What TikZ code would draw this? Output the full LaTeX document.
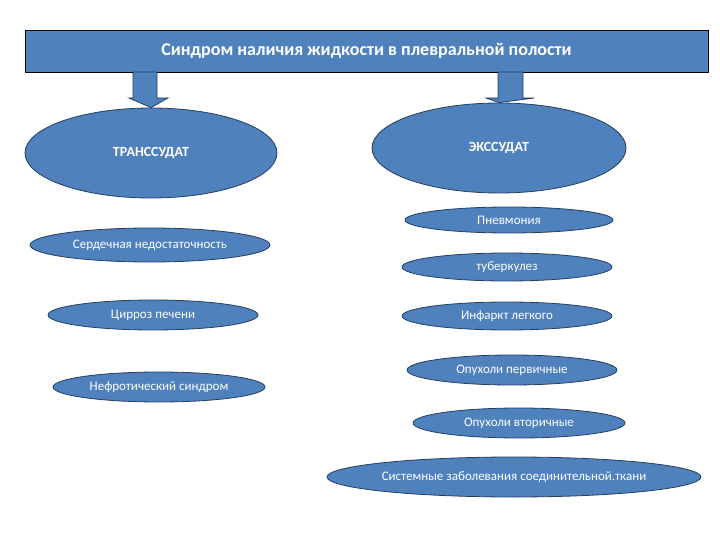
\documentclass[tikz,border=0pt]{standalone}
\usepackage{fontspec}
\setmainfont{Carlito}
\usetikzlibrary{shapes.geometric}
\definecolor{fillb}{HTML}{4F81BD}
\definecolor{edgeb}{HTML}{243F60}
\begin{document}
\begin{tikzpicture}[x=1pt,y=-1pt,
 ell/.style={ellipse,draw=edgeb,fill=fillb,line width=0.8pt,text=white,inner sep=0pt,font=\fontsize{13}{15}\selectfont},
 big/.style={ell,font=\bfseries\fontsize{14}{16}\selectfont},
 arr/.style={draw=edgeb,fill=fillb,line width=0.8pt}]
\useasboundingbox (0,0) rectangle (720,540);
\node[draw=black,fill=fillb,line width=0.8pt,minimum width=683pt,minimum height=42pt,inner sep=0pt,text=white,font=\bfseries\fontsize{18}{20}\selectfont] (title) at (366.5,51) {Синдром наличия жидкости в плевральной полости};
\node[big,minimum width=252pt,minimum height=90pt] (tr) at (151,153) {ТРАНССУДАТ};
\node[big,minimum width=254pt,minimum height=90pt] (ex) at (499,148) {ЭКССУДАТ};
\draw[arr] (133,72) -- (157,72) -- (157,98) -- (168,98) -- (tr.north) -- (129,98) -- (133,98) -- cycle;
\draw[arr] (498,72) -- (523,72) -- (523,98) -- (534,98) -- (ex.north) -- (486,98) -- (498,98) -- cycle;
\node[ell,minimum width=240pt,minimum height=34pt] (a1) at (150,245) {Сердечная недостаточность};
\node[ell,minimum width=210pt,minimum height=30pt] (a2) at (153,315) {Цирроз печени};
\node[ell,minimum width=212pt,minimum height=30pt] (a3) at (159,387) {Нефротический синдром};
\node[ell,minimum width=208pt,minimum height=26pt] (b1) at (509,220) {Пневмония};
\node[ell,minimum width=210pt,minimum height=28pt] (b2) at (507,267) {туберкулез};
\node[ell,minimum width=210pt,minimum height=28pt] (b3) at (507,316) {Инфаркт легкого};
\node[ell,minimum width=210pt,minimum height=30pt] (b4) at (512,370) {Опухоли первичные};
\node[ell,minimum width=212pt,minimum height=30pt] (b5) at (519,423) {Опухоли вторичные};
\node[ell,minimum width=364pt,minimum height=40pt] (b6) at (514,477) {Системные заболевания соединительной.ткани};
\end{tikzpicture}
\end{document}
